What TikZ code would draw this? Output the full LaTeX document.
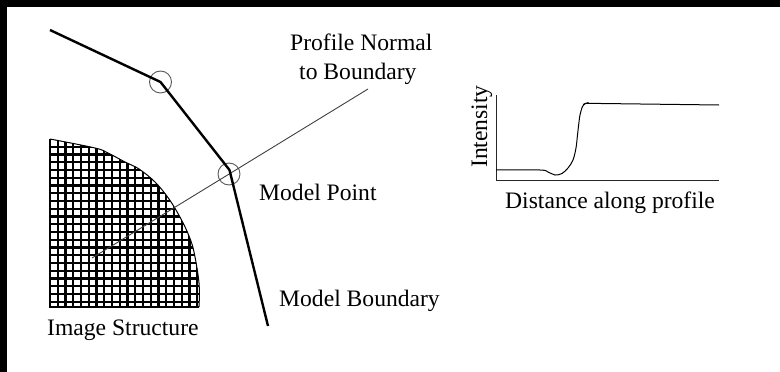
\documentclass[tikz,border=0pt]{standalone}
\usepackage{fontspec}
\setmainfont{Liberation Serif}
\begin{document}
\begin{tikzpicture}[x=1pt,y=-1pt,
  lbl/.style={inner sep=0pt,anchor=base west,font=\fontsize{23.6}{28}\selectfont},
  ring/.style={circle,draw=black!65,line width=0.9pt,minimum size=22pt,inner sep=0pt},
  boundary/.style={line width=2.4pt,line join=round},
  normalline/.style={draw=black!75,line width=0.9pt},
  axis/.style={line width=1pt,draw=black!85},
  gridln/.style={line width=2.3pt}]
\useasboundingbox (0,0) rectangle (780,372);
\fill[black] (0,0) rectangle (780,6.7);
\fill[black] (0,0) rectangle (6.7,372);

% image structure grid
\begin{scope}
\clip plot[smooth,tension=0.6] coordinates {(199,307) (199,283) (194,252) (189,236) (181,219) (169,199) (155,182) (139,169) (125,162) (108,153) (95,148) (50,139)} -- (50,307) -- cycle;
\foreach \i in {0,...,20} {\draw[gridln] ({50+7.75*\i},135) -- ({50+7.75*\i},310);}
\foreach \j in {0,...,22} {\draw[gridln] (45,{139+7.75*\j}) -- (205,{139+7.75*\j});}
\end{scope}
\draw[line width=1pt] plot[smooth,tension=0.6] coordinates {(199,307) (199,283) (194,252) (189,236) (181,219) (169,199) (155,182) (139,169) (125,162) (108,153) (95,148) (50,139)};
\draw[gridln] (50,139) -- (50,307) -- (199,307);

% model boundary and points
\node[ring] (c1) at (160.5,82) {};
\node[ring] (c2) at (229,174) {};
\coordinate (mb0) at (50,30);
\coordinate (mb1) at (268,326);
\coordinate (pn0) at (92,258);
\coordinate (pn1) at (368,89);
\draw[normalline] (pn0) -- (pn1);
\draw[boundary] (mb0) -- (c1.center) -- (229.5,170) -- (mb1);

% labels
\node[lbl] (tpn1) at (290,50) {Profile Normal};
\node[lbl] (tpn2) at (299,79) {to Boundary};
\node[lbl] (tmp) at (259,200.5) {Model Point};
\node[lbl] (tmb) at (279,306.5) {Model Boundary};
\node[lbl] (tis) at (47,335) {Image Structure};

% intensity profile graph
\coordinate (o) at (496,180);
\coordinate (ytop) at (496,95);
\coordinate (xend) at (719,180);
\draw[axis] (ytop) -- (o) -- (xend);
\draw[line width=1pt] plot[smooth,tension=0.55] coordinates {(496,170) (540,170) (548,172) (555,175) (562,173.5) (568,168) (573,160) (576,148) (577.5,135) (579,122) (580,115) (582.5,106.5) (585.5,103.3)} -- (719,105);
\draw[line width=1pt] (583,104.5) -- (588.5,102.5);
\node[lbl] (tdist) at (505,208) {Distance along profile};
\node[lbl,rotate=90] (tint) at (487,168) {Intensity};
\end{tikzpicture}
\end{document}
